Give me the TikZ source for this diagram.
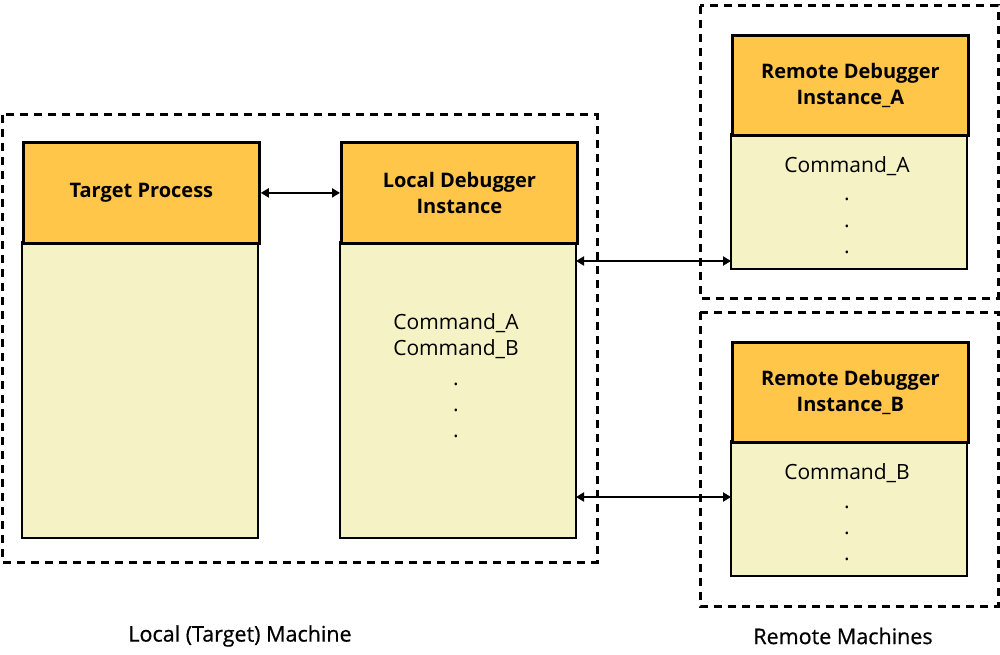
\documentclass[tikz,border=0pt]{standalone}
\usepackage{fontspec}
\setmainfont{Open Sans}
\newfontfamily\capfont[FakeBold=0.6]{Open Sans}
\usetikzlibrary{arrows.meta}
\definecolor{hdr}{RGB}{255,198,74}
\definecolor{bdy}{RGB}{245,243,197}
\begin{document}
\begin{tikzpicture}[x=1pt,y=-1pt,
  machine/.style={draw=black, line width=3pt, dash pattern=on 8pt off 6pt},
  header/.style={draw=black, fill=hdr, line width=2.8pt, align=center, font=\fontsize{20}{26}\selectfont\bfseries},
  body/.style={draw=black, fill=bdy, line width=2pt},
  cmd/.style={font=\fontsize{21}{26}\selectfont, align=center, inner sep=0pt},
  link/.style={line width=2.2pt, {Triangle[length=8pt,width=9pt]}-{Triangle[length=8pt,width=9pt]}},
  caption/.style={font=\capfont\fontsize{21.5}{26}\selectfont}]
\useasboundingbox (0,0) rectangle (1000,655);
% machine frames
\draw[machine] (2,115) rectangle (597,562);
\draw[machine] (700,6) rectangle (998,298);
\draw[machine] (700,312) rectangle (998,606);
% target process
\draw[body] (22,242) rectangle (258,538);
\node[header, minimum width=236pt, minimum height=101pt, anchor=north west] (tp) at (22,141) {Target Process};
% local debugger
\draw[body] (340,242) rectangle (576,538);
\coordinate (lbA) at (576,261);
\coordinate (lbB) at (576,497);
\node[header, minimum width=236pt, minimum height=101pt, anchor=north west] (ld) at (340,141) {Local Debugger\\Instance};
\node[cmd] (lc1) at (456,323) {Command\_A};
\node[cmd] (lc2) at (456,349) {Command\_B};
\node[cmd] (ld1) at (456,384) {.};
\node[cmd] (ld2) at (456,410) {.};
\node[cmd] (ld3) at (456,436) {.};
% remote A
\draw[body] (731,134) rectangle (967,269);
\coordinate (raL) at (731,261);
\node[header, minimum width=236pt, minimum height=100pt, anchor=north west] (ra) at (731,34) {Remote Debugger\\Instance\_A};
\node[cmd] (rac) at (847,166) {Command\_A};
\node[cmd] (rad1) at (847,199) {.};
\node[cmd] (rad2) at (847,226) {.};
\node[cmd] (rad3) at (847,252) {.};
% remote B
\draw[body] (731,441) rectangle (967,576);
\coordinate (rbL) at (731,497);
\node[header, minimum width=236pt, minimum height=100pt, anchor=north west] (rb) at (731,341) {Remote Debugger\\Instance\_B};
\node[cmd] (rbc) at (847,473) {Command\_B};
\node[cmd] (rbd1) at (847,507) {.};
\node[cmd] (rbd2) at (847,533) {.};
\node[cmd] (rbd3) at (847,559) {.};
% links
\draw[link] (tp.east) -- (ld.west);
\draw[link] (lbA) -- (raL);
\draw[link] (lbB) -- (rbL);
% captions
\node[caption] (capL) at (240,636) {Local (Target) Machine};
\node[caption] (capR) at (843,636) {Remote Machines};
\end{tikzpicture}
\end{document}
